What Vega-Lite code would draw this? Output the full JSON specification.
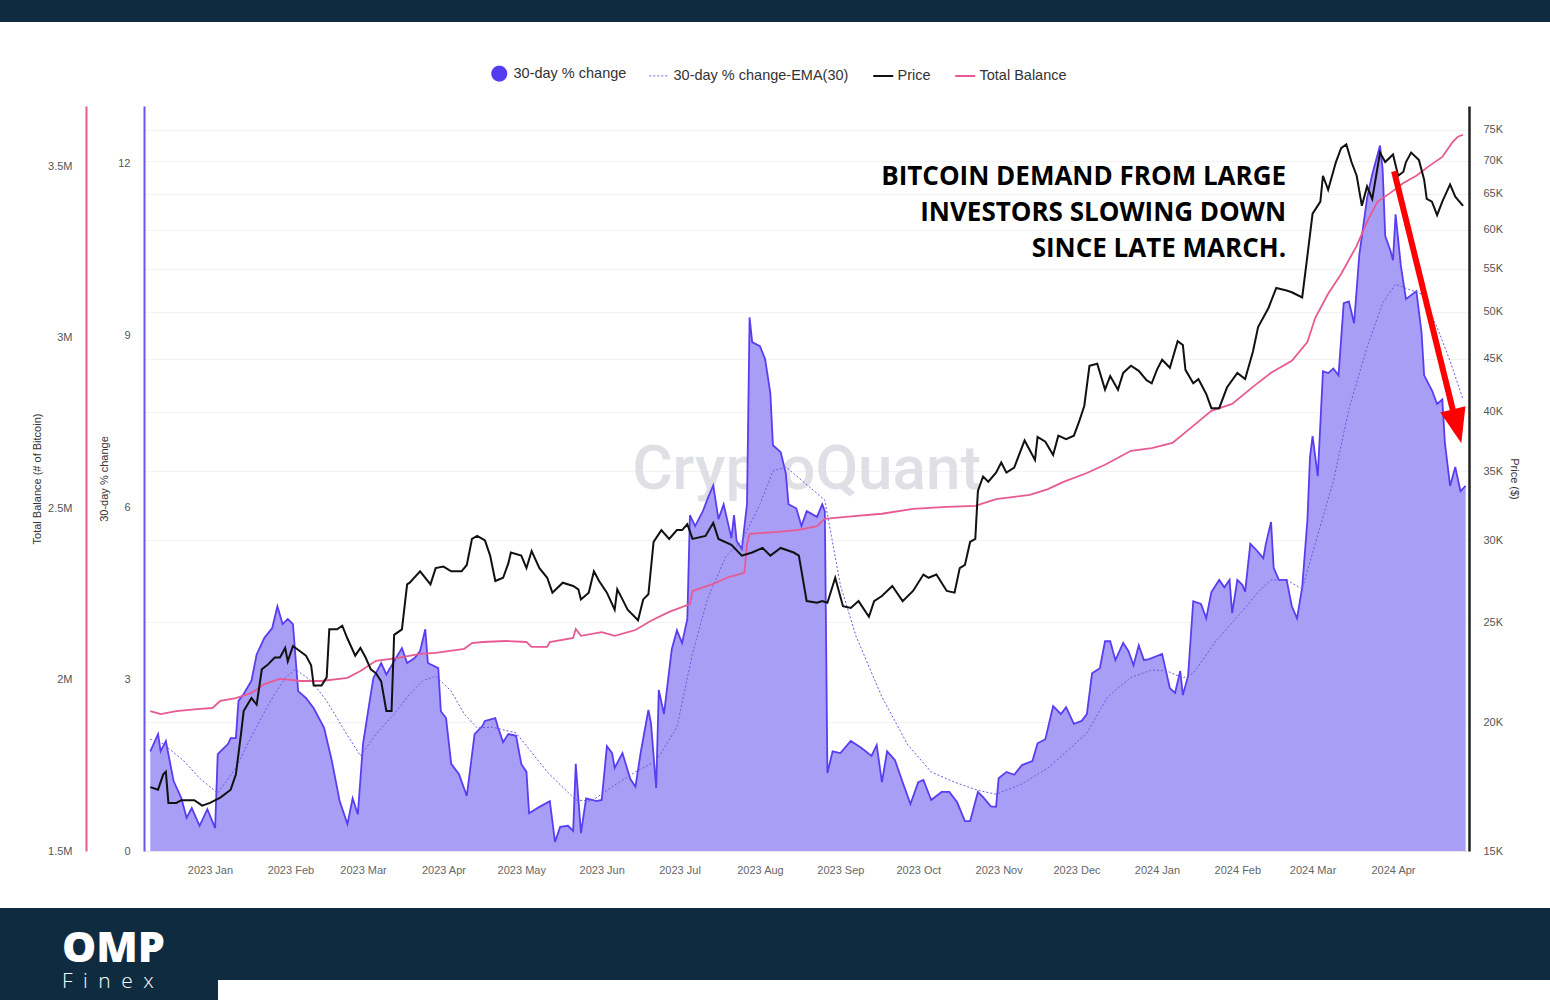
{
"$schema": "https://vega.github.io/schema/vega-lite/v6.json",
"background": "#ffffff",
"padding": 0,
"spacing": 0,
"config": {
  "view": {"stroke": null},
  "concat": {"spacing": 0},
  "font": "Liberation Sans",
  "axis": {"labelFont": "Liberation Sans", "titleFont": "Liberation Sans", "labelFontSize": 11, "titleFontSize": 11, "labelColor": "#555555", "titleColor": "#333333", "titleFontWeight": "normal", "ticks": false, "grid": false},
  "legend": {"labelFont": "Liberation Sans"}
},
"datasets": {
"chg": [
{"date":"2022-12-09","value":1.74},{"date":"2022-12-12","value":2.04},{"date":"2022-12-13","value":1.74},{"date":"2022-12-15","value":1.92},{"date":"2022-12-18","value":1.22},{"date":"2022-12-21","value":0.92},{"date":"2022-12-23","value":0.58},{"date":"2022-12-25","value":0.75},{"date":"2022-12-28","value":0.44},{"date":"2022-12-31","value":0.73},
{"date":"2023-01-03","value":0.40},{"date":"2023-01-04","value":1.69},{"date":"2023-01-08","value":1.87},{"date":"2023-01-09","value":1.97},{"date":"2023-01-11","value":1.97},{"date":"2023-01-12","value":2.62},{"date":"2023-01-14","value":2.74},{"date":"2023-01-17","value":2.97},{"date":"2023-01-19","value":3.43},{"date":"2023-01-22","value":3.72},{"date":"2023-01-25","value":3.89},{"date":"2023-01-27","value":4.27},{"date":"2023-01-29","value":3.96},{"date":"2023-01-31","value":4.05},
{"date":"2023-02-02","value":3.96},{"date":"2023-02-04","value":2.79},{"date":"2023-02-07","value":2.67},{"date":"2023-02-10","value":2.49},{"date":"2023-02-14","value":2.15},{"date":"2023-02-17","value":1.57},{"date":"2023-02-20","value":0.87},{"date":"2023-02-23","value":0.47},{"date":"2023-02-25","value":0.92},{"date":"2023-02-27","value":0.64},
{"date":"2023-03-01","value":1.87},{"date":"2023-03-04","value":2.74},{"date":"2023-03-05","value":3.02},{"date":"2023-03-08","value":3.28},{"date":"2023-03-10","value":3.08},{"date":"2023-03-13","value":3.31},{"date":"2023-03-16","value":3.54},{"date":"2023-03-18","value":3.28},{"date":"2023-03-21","value":3.37},{"date":"2023-03-23","value":3.49},{"date":"2023-03-25","value":3.87},{"date":"2023-03-26","value":3.28},{"date":"2023-03-30","value":3.19},{"date":"2023-03-31","value":2.44},
{"date":"2023-04-02","value":2.32},{"date":"2023-04-04","value":1.52},{"date":"2023-04-07","value":1.34},{"date":"2023-04-10","value":0.96},{"date":"2023-04-13","value":2.04},{"date":"2023-04-16","value":2.18},{"date":"2023-04-17","value":2.27},{"date":"2023-04-21","value":2.32},{"date":"2023-04-22","value":2.16},{"date":"2023-04-24","value":1.90},{"date":"2023-04-26","value":2.04},{"date":"2023-04-29","value":2.01},
{"date":"2023-05-01","value":1.52},{"date":"2023-05-03","value":1.38},{"date":"2023-05-04","value":0.66},{"date":"2023-05-08","value":0.77},{"date":"2023-05-12","value":0.87},{"date":"2023-05-14","value":0.16},{"date":"2023-05-16","value":0.42},{"date":"2023-05-19","value":0.44},{"date":"2023-05-21","value":0.35},{"date":"2023-05-22","value":1.52},{"date":"2023-05-24","value":0.31},{"date":"2023-05-26","value":0.92},{"date":"2023-05-30","value":0.87},
{"date":"2023-06-01","value":0.89},{"date":"2023-06-03","value":1.83},{"date":"2023-06-05","value":1.71},{"date":"2023-06-06","value":1.45},{"date":"2023-06-09","value":1.71},{"date":"2023-06-12","value":1.26},{"date":"2023-06-14","value":1.12},{"date":"2023-06-16","value":1.71},{"date":"2023-06-19","value":2.46},{"date":"2023-06-20","value":2.23},{"date":"2023-06-22","value":1.10},{"date":"2023-06-23","value":2.81},{"date":"2023-06-25","value":2.39},{"date":"2023-06-28","value":3.52},{"date":"2023-06-30","value":3.85},
{"date":"2023-07-02","value":3.63},{"date":"2023-07-04","value":4.05},{"date":"2023-07-05","value":5.86},{"date":"2023-07-07","value":5.67},{"date":"2023-07-10","value":5.93},{"date":"2023-07-12","value":6.17},{"date":"2023-07-14","value":6.38},{"date":"2023-07-16","value":5.79},{"date":"2023-07-18","value":6.05},{"date":"2023-07-21","value":5.46},{"date":"2023-07-22","value":5.86},{"date":"2023-07-23","value":5.41},{"date":"2023-07-25","value":5.27},{"date":"2023-07-27","value":6.05},{"date":"2023-07-28","value":9.31},{"date":"2023-07-29","value":8.88},
{"date":"2023-08-01","value":8.81},{"date":"2023-08-03","value":8.58},{"date":"2023-08-05","value":7.99},{"date":"2023-08-06","value":7.08},{"date":"2023-08-09","value":6.96},{"date":"2023-08-11","value":6.58},{"date":"2023-08-12","value":6.05},{"date":"2023-08-15","value":5.98},{"date":"2023-08-17","value":5.67},{"date":"2023-08-19","value":5.93},{"date":"2023-08-23","value":5.83},{"date":"2023-08-25","value":6.05},{"date":"2023-08-26","value":5.93},{"date":"2023-08-27","value":1.36},{"date":"2023-08-29","value":1.74},
{"date":"2023-09-01","value":1.71},{"date":"2023-09-05","value":1.92},{"date":"2023-09-09","value":1.80},{"date":"2023-09-13","value":1.66},{"date":"2023-09-15","value":1.85},{"date":"2023-09-17","value":1.20},{"date":"2023-09-19","value":1.74},{"date":"2023-09-22","value":1.59},{"date":"2023-09-25","value":1.20},{"date":"2023-09-28","value":0.82},
{"date":"2023-10-01","value":1.20},{"date":"2023-10-03","value":1.24},{"date":"2023-10-06","value":0.89},{"date":"2023-10-10","value":1.03},{"date":"2023-10-13","value":1.03},{"date":"2023-10-16","value":0.85},{"date":"2023-10-19","value":0.52},{"date":"2023-10-21","value":0.52},{"date":"2023-10-24","value":1.03},{"date":"2023-10-26","value":0.94},{"date":"2023-10-29","value":0.78},{"date":"2023-10-31","value":0.77},
{"date":"2023-11-01","value":1.27},{"date":"2023-11-04","value":1.38},{"date":"2023-11-07","value":1.33},{"date":"2023-11-10","value":1.50},{"date":"2023-11-14","value":1.57},{"date":"2023-11-16","value":1.88},{"date":"2023-11-19","value":1.95},{"date":"2023-11-22","value":2.53},{"date":"2023-11-25","value":2.39},{"date":"2023-11-27","value":2.51},{"date":"2023-11-30","value":2.22},
{"date":"2023-12-03","value":2.27},{"date":"2023-12-05","value":2.39},{"date":"2023-12-07","value":3.10},{"date":"2023-12-10","value":3.19},{"date":"2023-12-12","value":3.66},{"date":"2023-12-14","value":3.66},{"date":"2023-12-16","value":3.33},{"date":"2023-12-19","value":3.63},{"date":"2023-12-21","value":3.49},{"date":"2023-12-23","value":3.24},{"date":"2023-12-25","value":3.59},{"date":"2023-12-27","value":3.33},{"date":"2023-12-29","value":3.35},
{"date":"2024-01-03","value":3.44},{"date":"2024-01-06","value":2.84},{"date":"2024-01-08","value":2.76},{"date":"2024-01-10","value":3.14},{"date":"2024-01-11","value":2.72},{"date":"2024-01-13","value":3.05},{"date":"2024-01-15","value":4.36},{"date":"2024-01-18","value":4.31},{"date":"2024-01-20","value":4.06},{"date":"2024-01-22","value":4.52},{"date":"2024-01-25","value":4.73},{"date":"2024-01-27","value":4.60},{"date":"2024-01-29","value":4.73},{"date":"2024-01-30","value":4.15},
{"date":"2024-02-01","value":4.73},{"date":"2024-02-03","value":4.64},{"date":"2024-02-04","value":4.52},{"date":"2024-02-06","value":5.36},{"date":"2024-02-08","value":5.27},{"date":"2024-02-11","value":5.11},{"date":"2024-02-12","value":5.36},{"date":"2024-02-14","value":5.74},{"date":"2024-02-15","value":4.94},{"date":"2024-02-17","value":4.73},{"date":"2024-02-20","value":4.73},{"date":"2024-02-22","value":4.27},{"date":"2024-02-24","value":4.06},{"date":"2024-02-26","value":4.60},{"date":"2024-02-28","value":5.77},{"date":"2024-02-29","value":6.87},
{"date":"2024-03-01","value":7.24},{"date":"2024-03-03","value":6.54},{"date":"2024-03-05","value":8.37},{"date":"2024-03-07","value":8.34},{"date":"2024-03-09","value":8.42},{"date":"2024-03-11","value":8.30},{"date":"2024-03-13","value":9.56},{"date":"2024-03-15","value":9.59},{"date":"2024-03-17","value":9.21},{"date":"2024-03-19","value":10.40},{"date":"2024-03-22","value":11.39},{"date":"2024-03-24","value":11.81},{"date":"2024-03-27","value":12.31},{"date":"2024-03-28","value":11.90},{"date":"2024-03-29","value":10.73},{"date":"2024-03-31","value":10.48},
{"date":"2024-04-01","value":10.31},{"date":"2024-04-02","value":11.11},{"date":"2024-04-04","value":10.22},{"date":"2024-04-06","value":9.63},{"date":"2024-04-10","value":9.77},{"date":"2024-04-12","value":9.05},{"date":"2024-04-13","value":8.30},{"date":"2024-04-16","value":8.04},{"date":"2024-04-18","value":7.80},{"date":"2024-04-20","value":7.88},{"date":"2024-04-21","value":7.12},{"date":"2024-04-23","value":6.37},{"date":"2024-04-25","value":6.70},{"date":"2024-04-27","value":6.28},{"date":"2024-04-29","value":6.37}
],
"ema": [
{"date":"2022-12-09","value":1.95},{"date":"2022-12-14","value":1.87},{"date":"2022-12-22","value":1.57},{"date":"2022-12-28","value":1.27},{"date":"2023-01-04","value":1.01},{"date":"2023-01-11","value":1.45},{"date":"2023-01-18","value":2.09},{"date":"2023-01-25","value":2.67},{"date":"2023-01-30","value":3.02},{"date":"2023-02-03","value":3.17},{"date":"2023-02-09","value":2.97},{"date":"2023-02-15","value":2.62},{"date":"2023-02-22","value":2.09},{"date":"2023-02-28","value":1.66},{"date":"2023-03-06","value":2.04},{"date":"2023-03-13","value":2.39},{"date":"2023-03-19","value":2.74},{"date":"2023-03-24","value":2.97},{"date":"2023-03-29","value":3.05},{"date":"2023-04-04","value":2.79},{"date":"2023-04-09","value":2.39},{"date":"2023-04-14","value":2.15},{"date":"2023-04-20","value":2.16},{"date":"2023-04-29","value":2.06},{"date":"2023-05-11","value":1.38},{"date":"2023-05-22","value":0.89},{"date":"2023-05-28","value":0.87},{"date":"2023-06-05","value":1.12},{"date":"2023-06-14","value":1.38},{"date":"2023-06-22","value":1.57},{"date":"2023-06-30","value":2.16},{"date":"2023-07-06","value":3.45},{"date":"2023-07-12","value":4.43},{"date":"2023-07-19","value":5.15},{"date":"2023-07-25","value":5.41},{"date":"2023-08-01","value":6.05},{"date":"2023-08-06","value":6.63},{"date":"2023-08-11","value":6.70},{"date":"2023-08-16","value":6.51},{"date":"2023-08-23","value":6.24},{"date":"2023-08-26","value":6.12},{"date":"2023-09-01","value":4.64},{"date":"2023-09-07","value":3.75},{"date":"2023-09-17","value":2.69},{"date":"2023-09-27","value":1.85},{"date":"2023-10-06","value":1.38},{"date":"2023-10-15","value":1.20},{"date":"2023-10-24","value":1.06},{"date":"2023-10-31","value":0.99},{"date":"2023-11-10","value":1.17},{"date":"2023-11-20","value":1.45},{"date":"2023-11-30","value":1.85},{"date":"2023-12-05","value":2.06},{"date":"2023-12-13","value":2.69},{"date":"2023-12-22","value":3.03},{"date":"2023-12-30","value":3.16},{"date":"2024-01-05","value":3.14},{"date":"2024-01-11","value":3.02},{"date":"2024-01-15","value":3.10},{"date":"2024-01-24","value":3.68},{"date":"2024-02-03","value":4.19},{"date":"2024-02-09","value":4.52},{"date":"2024-02-14","value":4.73},{"date":"2024-02-20","value":4.73},{"date":"2024-02-26","value":4.57},{"date":"2024-03-02","value":5.36},{"date":"2024-03-09","value":6.45},{"date":"2024-03-15","value":7.71},{"date":"2024-03-22","value":8.79},{"date":"2024-03-28","value":9.56},{"date":"2024-04-02","value":9.89},{"date":"2024-04-07","value":9.80},{"date":"2024-04-12","value":9.72},{"date":"2024-04-18","value":9.14},{"date":"2024-04-23","value":8.55},{"date":"2024-04-28","value":7.88}
],
"price": [
{"date":"2022-12-09","value":17300},{"date":"2022-12-12","value":17200},{"date":"2022-12-14","value":17800},{"date":"2022-12-15","value":17900},{"date":"2022-12-16","value":16700},{"date":"2022-12-19","value":16700},{"date":"2022-12-21","value":16800},{"date":"2022-12-26","value":16800},{"date":"2022-12-29","value":16600},{"date":"2023-01-01","value":16700},{"date":"2023-01-05","value":16900},{"date":"2023-01-09","value":17200},{"date":"2023-01-11","value":17800},{"date":"2023-01-13","value":19500},{"date":"2023-01-14","value":20500},{"date":"2023-01-17","value":21100},{"date":"2023-01-19","value":20800},{"date":"2023-01-21","value":22500},{"date":"2023-01-23","value":22700},{"date":"2023-01-26","value":23100},{"date":"2023-01-28","value":23100},{"date":"2023-01-30","value":23600},{"date":"2023-01-31","value":22900},{"date":"2023-02-02","value":23700},{"date":"2023-02-05","value":23400},{"date":"2023-02-07","value":23200},{"date":"2023-02-09","value":22700},{"date":"2023-02-10","value":21700},{"date":"2023-02-13","value":21700},{"date":"2023-02-15","value":22100},{"date":"2023-02-16","value":24600},{"date":"2023-02-19","value":24600},{"date":"2023-02-21","value":24800},{"date":"2023-02-23","value":24100},{"date":"2023-02-26","value":23200},{"date":"2023-02-28","value":23600},{"date":"2023-03-02","value":23100},{"date":"2023-03-04","value":22500},{"date":"2023-03-06","value":22300},{"date":"2023-03-08","value":21900},{"date":"2023-03-10","value":20500},{"date":"2023-03-12","value":20500},{"date":"2023-03-13","value":24300},{"date":"2023-03-16","value":24600},{"date":"2023-03-18","value":27200},{"date":"2023-03-19","value":27300},{"date":"2023-03-23","value":28000},{"date":"2023-03-27","value":27200},{"date":"2023-03-29","value":28200},{"date":"2023-04-01","value":28300},{"date":"2023-04-04","value":28000},{"date":"2023-04-08","value":28000},{"date":"2023-04-10","value":28400},{"date":"2023-04-12","value":30100},{"date":"2023-04-14","value":30300},{"date":"2023-04-16","value":30100},{"date":"2023-04-17","value":30000},{"date":"2023-04-19","value":29000},{"date":"2023-04-21","value":27400},{"date":"2023-04-24","value":27600},{"date":"2023-04-26","value":28500},{"date":"2023-04-27","value":29200},{"date":"2023-05-01","value":29000},{"date":"2023-05-03","value":28200},{"date":"2023-05-05","value":29300},{"date":"2023-05-08","value":28200},{"date":"2023-05-11","value":27600},{"date":"2023-05-13","value":26700},{"date":"2023-05-17","value":27300},{"date":"2023-05-21","value":27100},{"date":"2023-05-23","value":26900},{"date":"2023-05-24","value":26300},{"date":"2023-05-27","value":26700},{"date":"2023-05-29","value":28000},{"date":"2023-05-31","value":27400},{"date":"2023-06-03","value":26700},{"date":"2023-06-06","value":25700},{"date":"2023-06-07","value":26900},{"date":"2023-06-09","value":26300},{"date":"2023-06-11","value":25700},{"date":"2023-06-15","value":25100},{"date":"2023-06-17","value":26300},{"date":"2023-06-19","value":26600},{"date":"2023-06-21","value":29900},{"date":"2023-06-24","value":30700},{"date":"2023-06-27","value":30100},{"date":"2023-06-30","value":30700},{"date":"2023-07-02","value":30700},{"date":"2023-07-04","value":31100},{"date":"2023-07-06","value":30100},{"date":"2023-07-11","value":30300},{"date":"2023-07-14","value":31200},{"date":"2023-07-16","value":30100},{"date":"2023-07-21","value":29700},{"date":"2023-07-25","value":29000},{"date":"2023-07-29","value":29200},{"date":"2023-08-02","value":29500},{"date":"2023-08-05","value":29000},{"date":"2023-08-09","value":29500},{"date":"2023-08-14","value":29200},{"date":"2023-08-16","value":29000},{"date":"2023-08-19","value":26200},{"date":"2023-08-23","value":26100},{"date":"2023-08-25","value":26200},{"date":"2023-08-27","value":26100},{"date":"2023-08-30","value":27600},{"date":"2023-09-02","value":25900},{"date":"2023-09-05","value":25800},{"date":"2023-09-08","value":26200},{"date":"2023-09-12","value":25300},{"date":"2023-09-14","value":26200},{"date":"2023-09-17","value":26500},{"date":"2023-09-21","value":27100},{"date":"2023-09-25","value":26200},{"date":"2023-09-29","value":26800},{"date":"2023-10-03","value":27800},{"date":"2023-10-05","value":27600},{"date":"2023-10-08","value":27800},{"date":"2023-10-12","value":26800},{"date":"2023-10-15","value":26700},{"date":"2023-10-17","value":28200},{"date":"2023-10-19","value":28400},{"date":"2023-10-21","value":29900},{"date":"2023-10-23","value":30100},{"date":"2023-10-24","value":33500},{"date":"2023-10-26","value":34600},{"date":"2023-10-28","value":34200},{"date":"2023-10-31","value":34900},{"date":"2023-11-02","value":35700},{"date":"2023-11-04","value":34900},{"date":"2023-11-07","value":35300},{"date":"2023-11-11","value":37500},{"date":"2023-11-15","value":35900},{"date":"2023-11-16","value":37800},{"date":"2023-11-19","value":37400},{"date":"2023-11-22","value":36300},{"date":"2023-11-24","value":37900},{"date":"2023-11-27","value":37600},{"date":"2023-11-30","value":37900},{"date":"2023-12-02","value":39100},{"date":"2023-12-04","value":40500},{"date":"2023-12-06","value":44300},{"date":"2023-12-09","value":44500},{"date":"2023-12-12","value":42000},{"date":"2023-12-14","value":43300},{"date":"2023-12-17","value":42000},{"date":"2023-12-19","value":43600},{"date":"2023-12-22","value":44300},{"date":"2023-12-25","value":43800},{"date":"2023-12-28","value":42900},{"date":"2023-12-30","value":42600},{"date":"2024-01-01","value":43900},{"date":"2024-01-03","value":44900},{"date":"2024-01-06","value":44100},{"date":"2024-01-09","value":46800},{"date":"2024-01-11","value":46400},{"date":"2024-01-12","value":43900},{"date":"2024-01-15","value":42600},{"date":"2024-01-17","value":43000},{"date":"2024-01-20","value":41600},{"date":"2024-01-22","value":40300},{"date":"2024-01-25","value":40300},{"date":"2024-01-28","value":42200},{"date":"2024-02-01","value":43600},{"date":"2024-02-04","value":43000},{"date":"2024-02-07","value":45700},{"date":"2024-02-09","value":48300},{"date":"2024-02-13","value":50400},{"date":"2024-02-16","value":52700},{"date":"2024-02-20","value":52400},{"date":"2024-02-22","value":52200},{"date":"2024-02-26","value":51600},{"date":"2024-02-28","value":56600},{"date":"2024-03-01","value":62200},{"date":"2024-03-04","value":63900},{"date":"2024-03-05","value":67700},{"date":"2024-03-07","value":65600},{"date":"2024-03-10","value":69800},{"date":"2024-03-12","value":72000},{"date":"2024-03-14","value":72600},{"date":"2024-03-16","value":69800},{"date":"2024-03-18","value":67700},{"date":"2024-03-20","value":63300},{"date":"2024-03-22","value":66100},{"date":"2024-03-24","value":64300},{"date":"2024-03-27","value":71300},{"date":"2024-03-29","value":69800},{"date":"2024-03-31","value":70600},{"date":"2024-04-01","value":71000},{"date":"2024-04-03","value":67700},{"date":"2024-04-05","value":68300},{"date":"2024-04-06","value":69800},{"date":"2024-04-08","value":71300},{"date":"2024-04-11","value":70100},{"date":"2024-04-13","value":67100},{"date":"2024-04-14","value":64300},{"date":"2024-04-16","value":63900},{"date":"2024-04-18","value":62000},{"date":"2024-04-20","value":63900},{"date":"2024-04-23","value":66400},{"date":"2024-04-25","value":64600},{"date":"2024-04-28","value":63300}
],
"bal": [
{"date":"2022-12-09","value":1909000},{"date":"2022-12-13","value":1900000},{"date":"2022-12-19","value":1909000},{"date":"2022-12-27","value":1915000},{"date":"2023-01-02","value":1918000},{"date":"2023-01-05","value":1939000},{"date":"2023-01-11","value":1947000},{"date":"2023-01-17","value":1962000},{"date":"2023-01-22","value":1988000},{"date":"2023-01-28","value":2003000},{"date":"2023-02-05","value":1997000},{"date":"2023-02-13","value":1997000},{"date":"2023-02-23","value":2006000},{"date":"2023-02-28","value":2026000},{"date":"2023-03-06","value":2056000},{"date":"2023-03-14","value":2064000},{"date":"2023-03-23","value":2076000},{"date":"2023-03-29","value":2079000},{"date":"2023-04-09","value":2091000},{"date":"2023-04-12","value":2108000},{"date":"2023-04-16","value":2111000},{"date":"2023-04-25","value":2114000},{"date":"2023-05-03","value":2111000},{"date":"2023-05-05","value":2097000},{"date":"2023-05-11","value":2097000},{"date":"2023-05-12","value":2111000},{"date":"2023-05-21","value":2123000},{"date":"2023-05-22","value":2149000},{"date":"2023-05-24","value":2129000},{"date":"2023-06-01","value":2140000},{"date":"2023-06-06","value":2129000},{"date":"2023-06-14","value":2146000},{"date":"2023-06-20","value":2173000},{"date":"2023-06-27","value":2199000},{"date":"2023-07-05","value":2222000},{"date":"2023-07-06","value":2260000},{"date":"2023-07-14","value":2281000},{"date":"2023-07-20","value":2301000},{"date":"2023-07-26","value":2313000},{"date":"2023-07-27","value":2395000},{"date":"2023-07-28","value":2427000},{"date":"2023-08-08","value":2433000},{"date":"2023-08-16","value":2439000},{"date":"2023-08-23","value":2450000},{"date":"2023-08-26","value":2471000},{"date":"2023-09-03","value":2477000},{"date":"2023-09-17","value":2486000},{"date":"2023-09-29","value":2500000},{"date":"2023-10-12","value":2506000},{"date":"2023-10-23","value":2509000},{"date":"2023-10-31","value":2529000},{"date":"2023-11-13","value":2541000},{"date":"2023-11-20","value":2558000},{"date":"2023-11-26","value":2579000},{"date":"2023-12-05","value":2605000},{"date":"2023-12-12","value":2629000},{"date":"2023-12-22","value":2670000},{"date":"2023-12-30","value":2678000},{"date":"2024-01-07","value":2693000},{"date":"2024-01-15","value":2743000},{"date":"2024-01-22","value":2787000},{"date":"2024-01-30","value":2807000},{"date":"2024-02-07","value":2857000},{"date":"2024-02-14","value":2898000},{"date":"2024-02-22","value":2933000},{"date":"2024-02-28","value":2988000},{"date":"2024-03-02","value":3058000},{"date":"2024-03-07","value":3129000},{"date":"2024-03-12","value":3187000},{"date":"2024-03-18","value":3269000},{"date":"2024-03-22","value":3339000},{"date":"2024-03-26","value":3398000},{"date":"2024-03-31","value":3424000},{"date":"2024-04-05","value":3453000},{"date":"2024-04-10","value":3474000},{"date":"2024-04-15","value":3503000},{"date":"2024-04-20","value":3529000},{"date":"2024-04-24","value":3573000},{"date":"2024-04-26","value":3588000},{"date":"2024-04-28","value":3594000}
]
},
"vconcat": [
  {"width": 1550, "height": 22, "view": {"fill": "#0f2b40"}, "data": {"values": [{}]}, "mark": "text", "encoding": {"text": {"value": ""}}},
  {"width": 1550, "height": 83, "data": {"values": [{}]}, "mark": "text", "encoding": {"text": {"value": ""}}},
  {"hconcat": [
    {"width": 31, "height": 10, "data": {"values": [{}]}, "mark": "text", "encoding": {"text": {"value": ""}}},
    {
      "width": 1325, "height": 745,
      "encoding": {
        "x": {"field": "date", "type": "temporal",
          "scale": {"type": "utc", "domain": [{"year": 2022, "month": 12, "date": 6, "hours": 14, "utc": true}, {"year": 2024, "month": 4, "date": 30, "hours": 7, "utc": true}]},
          "axis": {"format": "%Y %b", "tickCount": {"interval": "month", "step": 1}, "title": null, "labelPadding": 13, "labelColor": "#666666", "domainColor": "#e6e6e6", "domainWidth": 1, "labelOverlap": false, "labelFlush": false}}
      },
      "layer": [
        {
          "encoding": {"y": {"field": "value", "type": "quantitative", "scale": {"domain": [0, 13], "nice": false},
            "axis": {"orient": "left", "values": [0, 3, 6, 9, 12], "title": "30-day % change", "domainColor": "#6a55f0", "domainWidth": 2, "labelPadding": 14, "titlePadding": 8}}},
          "layer": [
            {"data": {"values": [{"date": "2023-08-19", "value": 6.31, "label": "CryptoQuant"}]},
             "mark": {"type": "text", "font": "Roboto", "fontSize": 62, "fontWeight": 500, "color": "#dfdfe6", "align": "center", "baseline": "alphabetic"},
             "encoding": {"text": {"field": "label"}}},
            {"data": {"name": "chg"},
             "mark": {"type": "area", "color": "#a99ef5", "opacity": 1, "line": {"color": "#5a3df0", "strokeWidth": 1.8}}},
            {"data": {"name": "ema"},
             "mark": {"type": "line", "strokeWidth": 1, "strokeDash": [2, 2]},
             "encoding": {"color": {"datum": "30-day % change-EMA(30)", "type": "nominal"}}}
          ]
        },
        {
          "data": {"name": "bal"},
          "mark": {"type": "line", "strokeWidth": 1.8},
          "encoding": {
            "y": {"field": "value", "type": "quantitative", "scale": {"domain": [1500000, 3678000], "nice": false, "zero": false},
              "axis": {"orient": "left", "offset": 58, "values": [1500000, 2000000, 2500000, 3000000, 3500000], "format": "~s", "title": "Total Balance (# of Bitcoin)", "domainColor": "#e85a92", "domainWidth": 2, "labelPadding": 14, "titlePadding": 5}},
            "color": {"datum": "Total Balance", "type": "nominal"}
          }
        },
        {
          "data": {"name": "price"},
          "mark": {"type": "line", "strokeWidth": 2},
          "encoding": {
            "y": {"field": "value", "type": "quantitative", "scale": {"type": "log", "domain": [15000, 79100], "nice": false},
              "axis": {"orient": "right", "values": [15000, 20000, 25000, 30000, 35000, 40000, 45000, 50000, 55000, 60000, 65000, 70000, 75000], "labelExpr": "datum.value / 1000 + 'K'", "title": "Price ($)", "titleAngle": 90, "domainColor": "#222222", "domainWidth": 2.5, "grid": true, "gridColor": "#f2f2f2", "labelPadding": 14, "titlePadding": 6}},
            "color": {"datum": "Price", "type": "nominal",
              "scale": {"domain": ["30-day % change", "30-day % change-EMA(30)", "Price", "Total Balance"], "range": ["#543cf0", "#6a5ae0", "#111111", "#e85a92"]},
              "legend": {"orient": "none", "legendX": 492, "legendY": 66, "direction": "horizontal", "title": null, "padding": 0,
                "symbolSize": 400, "symbolType": "stroke", "symbolStrokeWidth": 2, "labelFontSize": 14.5, "labelColor": "#333333", "labelOffset": 7, "columnPadding": 20, "labelLimit": 400,
                "encode": {"symbols": {"update": {
                  "shape": {"signal": "datum.value === '30-day % change' ? 'circle' : 'stroke'"},
                  "size": {"signal": "datum.value === '30-day % change' ? 196 : 400"},
                  "fill": {"signal": "datum.value === '30-day % change' ? '#543cf0' : 'transparent'"},
                  "strokeWidth": {"signal": "datum.value === '30-day % change-EMA(30)' ? 1 : 2"},
                  "strokeDash": {"signal": "datum.value === '30-day % change-EMA(30)' ? [2, 2] : [1, 0]"}
                }}}}}
          }
        },
        {
          "encoding": {"y": {"field": "value", "type": "quantitative", "scale": {"domain": [0, 13], "nice": false}, "axis": null}},
          "layer": [
            {"data": {"values": [{"date": "2024-02-19T19:00:00Z", "value": 11.99}]},
             "mark": {"type": "text", "font": "Open Sans", "fontSize": 26, "fontWeight": 700, "color": "#000000", "align": "right", "baseline": "top", "lineHeight": 36},
             "encoding": {"text": {"value": ["BITCOIN DEMAND FROM LARGE", "INVESTORS SLOWING DOWN", "SINCE LATE MARCH."]}}},
            {"data": {"values": [{"date": "2024-04-01T10:00:00Z", "value": 11.86, "date2": "2024-04-24T05:00:00Z", "value2": 7.67}]},
             "mark": {"type": "rule", "color": "#ff0000", "strokeWidth": 6, "strokeCap": "butt"},
             "encoding": {"x2": {"field": "date2"}, "y2": {"field": "value2"}}},
            {"data": {"values": [{"date": "2024-04-25T17:00:00Z", "value": 7.41}]},
             "mark": {"type": "point", "shape": "M-0.74,-1L0.74,-1L0,1Z", "filled": true, "color": "#ff0000", "opacity": 1, "size": 1225, "angle": -14}}
          ]
        }
      ],
      "resolve": {"scale": {"y": "independent"}}
    }
  ], "spacing": 0},
  {"width": 1550, "height": 33, "data": {"values": [{}]}, "mark": "text", "encoding": {"text": {"value": ""}}},
  {"hconcat": [
    {"width": 218, "height": 92, "view": {"fill": "#0f2b40"},
     "title": {"text": "OMP", "subtitle": "F\u2002i\u2002n\u2002e\u2002x", "anchor": "start", "orient": "bottom", "frame": "group", "offset": -72, "dx": 62, "baseline": "top",
       "font": "Open Sans", "fontSize": 43, "fontWeight": 800, "color": "#ffffff",
       "subtitleFont": "Open Sans", "subtitleFontSize": 21, "subtitleFontWeight": 300, "subtitleColor": "#ffffff", "subtitlePadding": 0},
     "data": {"values": [{}]}, "mark": "text", "encoding": {"text": {"value": ""}}},
    {"vconcat": [
      {"width": 1332, "height": 72, "view": {"fill": "#0f2b40"}, "data": {"values": [{}]}, "mark": "text", "encoding": {"text": {"value": ""}}},
      {"width": 1332, "height": 20, "data": {"values": [{}]}, "mark": "text", "encoding": {"text": {"value": ""}}}
    ], "spacing": 0}
  ], "spacing": 0}
]
}
